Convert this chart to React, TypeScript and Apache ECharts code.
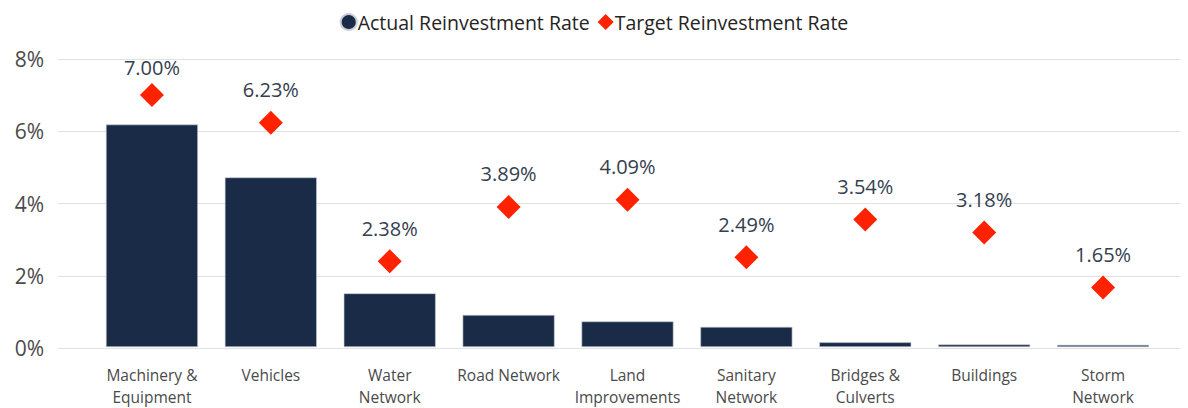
import React, { useEffect, useRef } from "react";
import * as echarts from "echarts";

const categories = [
  "Machinery &\nEquipment",
  "Vehicles",
  "Water\nNetwork",
  "Road Network",
  "Land\nImprovements",
  "Sanitary\nNetwork",
  "Bridges &\nCulverts",
  "Buildings",
  "Storm\nNetwork",
];
const actualRates = [6.18, 4.71, 1.49, 0.89, 0.71, 0.56, 0.13, 0.07, 0.06];
const targetRates = [7.0, 6.23, 2.38, 3.89, 4.09, 2.49, 3.54, 3.18, 1.65];
const yTicks = { min: 0, max: 8, interval: 2 };

const FONT = "'Open Sans', 'Noto Sans', sans-serif";

export default function App() {
  const ref = useRef<HTMLDivElement>(null);
  useEffect(() => {
    if (!ref.current) return;
    const chart = echarts.init(ref.current, undefined, { renderer: "svg" });
    chart.setOption({
      animation: false,
      textStyle: { fontFamily: FONT },
      legend: {
        top: 7,
        left: "center",
        itemWidth: 16,
        itemHeight: 16,
        itemGap: 8,
        textStyle: { fontSize: 19.5, color: "#252423", fontFamily: FONT, padding: [0, 0, 0, -4] },
        data: [
          { name: "Actual Reinvestment Rate", icon: "circle" },
          { name: "Target Reinvestment Rate", icon: "diamond" },
        ],
      },
      grid: [
        { left: 58, right: 8, top: 59, bottom: 60 },
        { left: 92.5, right: 25.5, top: 59, bottom: 60 },
      ],
      xAxis: [
        { gridIndex: 0, type: "value", show: false, min: 0, max: 1 },
        {
          gridIndex: 1,
          type: "category",
          data: categories,
          axisLine: { show: false },
          axisTick: { show: false },
          axisLabel: {
            fontSize: 15.5,
            color: "#4a4a4a",
            lineHeight: 22,
            margin: 17,
            fontFamily: FONT,
            interval: 0,
          },
        },
      ],
      yAxis: [
        {
          gridIndex: 0,
          type: "value",
          min: yTicks.min,
          max: yTicks.max,
          interval: yTicks.interval,
          axisLine: { show: false },
          axisTick: { show: false },
          axisLabel: {
            formatter: "{value}%",
            fontSize: 21,
            color: "#4a4a4a",
            margin: 14,
            fontFamily: FONT,
          },
          splitLine: { lineStyle: { color: "#e1e1e1", width: 1 } },
        },
        {
          gridIndex: 1,
          type: "value",
          min: yTicks.min,
          max: yTicks.max,
          interval: yTicks.interval,
          show: false,
          splitLine: { show: false },
        },
      ],
      series: [
        {
          name: "Actual Reinvestment Rate",
          type: "bar",
          xAxisIndex: 1,
          yAxisIndex: 1,
          data: actualRates,
          barWidth: 92,
          itemStyle: { color: "#1A2B47", borderColor: "#c9ced6", borderWidth: 0.6 },
        },
        {
          name: "Target Reinvestment Rate",
          type: "scatter",
          xAxisIndex: 1,
          yAxisIndex: 1,
          symbol: "diamond",
          symbolSize: 24,
          itemStyle: { color: "#FF2200", opacity: 1 },
          data: targetRates.map((v, i) => ({
            value: v,
            label: { distance: i === 0 ? 6 : 11 },
          })),
          label: {
            show: true,
            position: "top",
            formatter: (p: any) => `${Number(p.value).toFixed(2)}%`,
            fontSize: 20,
            color: "#34404f",
            fontFamily: FONT,
          },
        },
      ],
    });
    return () => chart.dispose();
  }, []);
  return (
    <div
      ref={ref}
      style={{ position: "absolute", left: 0, top: 0, width: 1188, height: 408, background: "#fff" }}
    />
  );
}
